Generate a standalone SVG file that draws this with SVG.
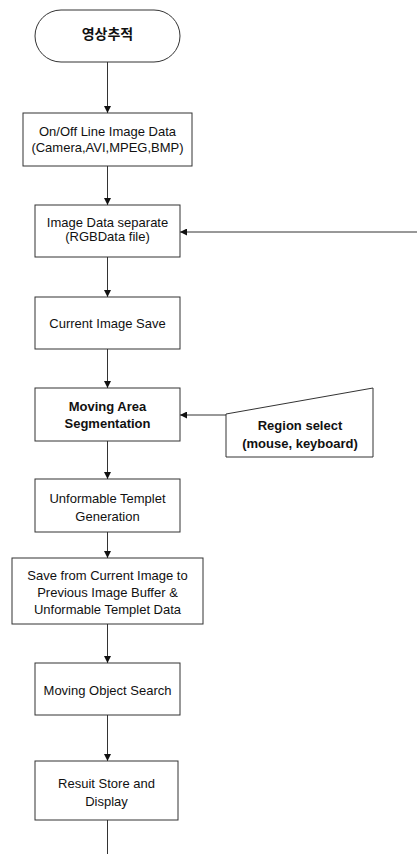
<svg xmlns="http://www.w3.org/2000/svg" width="417" height="854" viewBox="0 0 417 854">
<style>
.box{fill:#fff;stroke:#333;stroke-width:1}
.t{font-family:"Liberation Sans",Arial,"Noto Sans CJK KR",sans-serif;font-size:13px;fill:#111;text-anchor:middle}
.b{font-weight:bold}
.c{stroke:#333;stroke-width:1;fill:none}
</style>
<defs>
<marker id="ah" viewBox="0 0 10 10" refX="10" refY="5" markerWidth="7" markerHeight="7" orient="auto" markerUnits="userSpaceOnUse">
<path d="M0,0 L10,5 L0,10 z" fill="#111"/>
</marker>
</defs>
<rect width="417" height="854" fill="#fff"/>
<g id="connectors">
<line class="c" x1="107.5" y1="62" x2="107.5" y2="113" marker-end="url(#ah)"/>
<line class="c" x1="107.5" y1="166" x2="107.5" y2="205" marker-end="url(#ah)"/>
<line class="c" x1="417" y1="232" x2="180" y2="232" marker-end="url(#ah)"/>
<line class="c" x1="107.5" y1="257" x2="107.5" y2="297" marker-end="url(#ah)"/>
<line class="c" x1="107.5" y1="349" x2="107.5" y2="388" marker-end="url(#ah)"/>
<line class="c" x1="226" y1="415" x2="180" y2="415" marker-end="url(#ah)"/>
<line class="c" x1="107.5" y1="441" x2="107.5" y2="479" marker-end="url(#ah)"/>
<line class="c" x1="107.5" y1="532" x2="107.5" y2="558" marker-end="url(#ah)"/>
<line class="c" x1="107.5" y1="624" x2="107.5" y2="663" marker-end="url(#ah)"/>
<line class="c" x1="107.5" y1="715" x2="107.5" y2="761" marker-end="url(#ah)"/>
<line class="c" x1="107.5" y1="820" x2="107.5" y2="854"/>
</g>
<g id="start">
<rect class="box" x="35" y="10" width="145" height="52" rx="26" ry="26"/>
<text class="t b" x="107.5" y="39" style="font-family:'Noto Sans CJK KR',sans-serif;font-size:14px">영상추적</text>
</g>
<g id="n1">
<rect class="box" x="23" y="113" width="169" height="53"/>
<text class="t" x="107.5" y="136">On/Off Line Image Data</text>
<text class="t" x="107.5" y="152">(Camera,AVI,MPEG,BMP)</text>
</g>
<g id="n2">
<rect class="box" x="35" y="205" width="145" height="52"/>
<text class="t" x="107.5" y="227">Image Data separate</text>
<text class="t" x="107.5" y="241">(RGBData file)</text>
</g>
<g id="n3">
<rect class="box" x="35" y="297" width="145" height="52"/>
<text class="t" x="107.5" y="328">Current Image Save</text>
</g>
<g id="n4">
<rect class="box" x="35" y="388" width="145" height="53"/>
<text class="t b" x="107.5" y="411">Moving Area</text>
<text class="t b" x="107.5" y="428">Segmentation</text>
</g>
<g id="region">
<path class="box" d="M226,414 L373,388 L373,457 L226,457 Z"/>
<text class="t b" x="300" y="430">Region select</text>
<text class="t b" x="300" y="448">(mouse, keyboard)</text>
</g>
<g id="n5">
<rect class="box" x="35" y="479" width="145" height="53"/>
<text class="t" x="107.5" y="503">Unformable Templet</text>
<text class="t" x="107.5" y="521">Generation</text>
</g>
<g id="n6">
<rect class="box" x="12" y="558" width="191" height="66"/>
<text class="t" x="107.5" y="580">Save from Current Image to</text>
<text class="t" x="107.5" y="597">Previous Image Buffer &amp;</text>
<text class="t" x="107.5" y="614">Unformable Templet Data</text>
</g>
<g id="n7">
<rect class="box" x="35" y="663" width="145" height="52"/>
<text class="t" x="107.5" y="695">Moving Object Search</text>
</g>
<g id="n8">
<rect class="box" x="35" y="761" width="143" height="59"/>
<text class="t" x="106.5" y="788">Resuit Store and</text>
<text class="t" x="106.5" y="806">Display</text>
</g>
</svg>
